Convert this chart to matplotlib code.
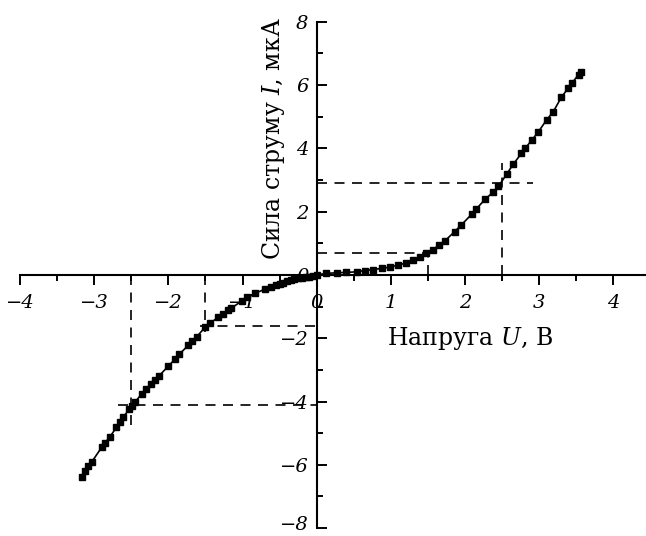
import matplotlib
matplotlib.use("Agg")
import matplotlib.pyplot as plt
from matplotlib.ticker import FixedLocator
from matplotlib.transforms import ScaledTranslation

plt.rcParams['font.family'] = ['DejaVu Serif']
plt.rcParams['mathtext.fontset'] = 'dejavuserif'

# measured points, negative branch (U in V, I in uA)
u_neg = [-3.17, -3.12, -3.08, -3.03, -2.90, -2.86, -2.79, -2.70, -2.65, -2.61,
         -2.53, -2.49, -2.45, -2.36, -2.30, -2.24, -2.18, -2.13, -2.00, -1.91,
         -1.85, -1.73, -1.68, -1.62, -1.50, -1.44, -1.33, -1.26, -1.19, -1.15,
         -1.01, -0.94, -0.83, -0.70, -0.61, -0.55, -0.50, -0.45, -0.40, -0.35,
         -0.30, -0.25, -0.20, -0.15, -0.10, -0.05, 0.00]
i_neg = [-6.38, -6.20, -6.05, -5.90, -5.45, -5.32, -5.12, -4.82, -4.66, -4.50,
         -4.25, -4.13, -4.02, -3.76, -3.60, -3.46, -3.32, -3.20, -2.88, -2.66,
         -2.50, -2.22, -2.10, -1.96, -1.64, -1.53, -1.34, -1.22, -1.12, -1.05,
         -0.82, -0.71, -0.58, -0.45, -0.37, -0.32, -0.28, -0.24, -0.20, -0.17,
         -0.14, -0.11, -0.09, -0.07, -0.05, -0.03, 0.00]

# positive branch
u_pos = [0.13, 0.27, 0.40, 0.54, 0.65, 0.76, 0.88, 0.99, 1.10, 1.21, 1.30,
         1.39, 1.48, 1.57, 1.65, 1.73, 1.86, 1.95, 2.09, 2.15, 2.27, 2.38,
         2.45, 2.56, 2.65, 2.76, 2.81, 2.90, 2.99, 3.10, 3.19, 3.30, 3.39,
         3.44, 3.53, 3.56]
i_pos = [0.05, 0.07, 0.08, 0.10, 0.14, 0.17, 0.21, 0.25, 0.31, 0.38, 0.46,
         0.56, 0.68, 0.80, 0.95, 1.08, 1.37, 1.58, 1.92, 2.08, 2.39, 2.62,
         2.80, 3.18, 3.50, 3.84, 4.00, 4.26, 4.53, 4.90, 5.16, 5.62, 5.90,
         6.06, 6.33, 6.42]

# dashed guide lines: (u0, u1, i0, i1)
guides = [
    (0.0, 2.92, 2.9, 2.9),
    (2.5, 2.5, 0.0, 3.55),
    (0.0, 1.5, 0.7, 0.7),
    (1.5, 1.5, 0.0, 0.7),
    (-1.57, 0.0, -1.6, -1.6),
    (-1.5, -1.5, 0.0, -1.8),
    (-2.68, 0.0, -4.1, -4.1),
    (-2.5, -2.5, 0.0, -4.85),
]

x_ticks = [-4, -3, -2, -1, 0, 1, 2, 3, 4]
y_ticks = [-8, -6, -4, -2, 0, 2, 4, 6, 8]

fig = plt.figure(figsize=(6.46, 5.36), dpi=100)
ax = fig.add_axes([0, 0, 1, 1])
ax.set_xlim(-4.27, 4.44)
ax.set_ylim(-8.25, 8.69)

for u0, u1, i0, i1 in guides:
    ax.plot([u0, u1], [i0, i1], color='black', lw=1.2, ls=(0, (6, 4.5)), zorder=1)

u_all = u_neg + u_pos
i_all = i_neg + i_pos
ax.plot(u_all, i_all, '-', color='black', lw=1.2, zorder=2)
ax.plot(u_all, i_all, 's', color='black', ms=3.8, zorder=3)

for s in ['top', 'right']:
    ax.spines[s].set_visible(False)
ax.spines['left'].set_position(('data', 0))
ax.spines['bottom'].set_position(('data', 0))
ax.spines['left'].set_bounds(-8, 8)
ax.spines['bottom'].set_bounds(-4, 4.44)
ax.spines['left'].set_linewidth(1.5)
ax.spines['bottom'].set_linewidth(1.5)

ax.xaxis.set_major_locator(FixedLocator(x_ticks))
ax.xaxis.set_minor_locator(FixedLocator([-3.5, -2.5, -1.5, -0.5, 0.5, 1.5, 2.5, 3.5]))
ax.yaxis.set_major_locator(FixedLocator(y_ticks))
ax.yaxis.set_minor_locator(FixedLocator([-7, -5, -3, -1, 1, 3, 5, 7]))
ax.tick_params(axis='x', which='major', direction='out', length=7.5, width=1.4, pad=6)
ax.tick_params(axis='x', which='minor', direction='out', length=4, width=1.4)
ax.tick_params(axis='y', which='major', direction='in', length=7.5, width=1.4, pad=6)
ax.tick_params(axis='y', which='minor', direction='in', length=4, width=1.4)
ax.set_xticklabels([str(v).replace('-', '\u2212') for v in x_ticks],
                   fontstyle='italic', fontsize=14)
ylabels = ax.set_yticklabels([str(v).replace('-', '\u2212') for v in y_ticks],
                             fontstyle='italic', fontsize=14)
# lift the bottom label a little so it stays inside the picture
ylabels[0].set_transform(ylabels[0].get_transform()
                         + ScaledTranslation(0, 4 / 72, fig.dpi_scale_trans))

ax.text(2.07, -2.0, 'Напруга $\\mathit{U}$, В', fontsize=17, ha='center', va='center')
ax.text(-0.58, 4.3, 'Сила струму $\\mathit{I}$, мкА', fontsize=17, rotation=90,
        ha='center', va='center')

fig.savefig('out.png', dpi=100)
